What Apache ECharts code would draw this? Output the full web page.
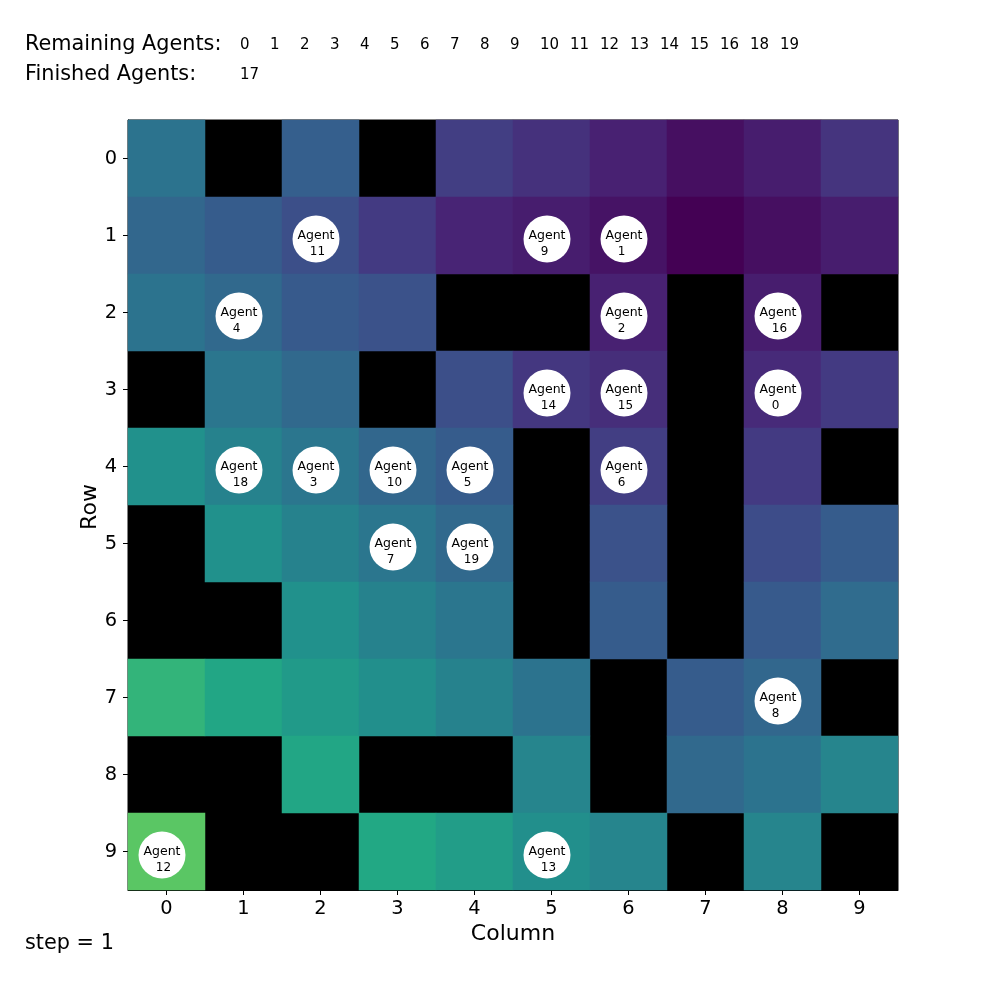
<!DOCTYPE html>
<html>
<head>
<meta charset="utf-8">
<style>
  html, body { margin: 0; padding: 0; background: #fff; }
  #main { width: 1000px; height: 1000px; }
</style>
<script src="https://cdn.jsdelivr.net/npm/echarts@6/dist/echarts.min.js"></script>
</head>
<body>
<div id="main"></div>
<script>
var columns = ['0', '1', '2', '3', '4', '5', '6', '7', '8', '9'];
var rows = ['0', '1', '2', '3', '4', '5', '6', '7', '8', '9'];

// cell values per row, null = wall (black)
var row0 = [0.38, null, 0.30, null, 0.18, 0.14, 0.09, 0.04, 0.08, 0.15];
var row1 = [0.33, 0.29, 0.24, 0.17, 0.10, 0.08, 0.05, 0.00, 0.04, 0.08];
var row2 = [0.38, 0.34, 0.28, 0.25, null, null, 0.09, null, 0.08, null];
var row3 = [null, 0.39, 0.34, null, 0.24, 0.16, 0.13, null, 0.12, 0.17];
var row4 = [0.50, 0.44, 0.39, 0.33, 0.29, null, 0.18, null, 0.17, null];
var row5 = [null, 0.50, 0.44, 0.39, 0.34, null, 0.25, null, 0.23, 0.29];
var row6 = [null, null, 0.50, 0.44, 0.39, null, 0.29, null, 0.28, 0.35];
var row7 = [0.65, 0.59, 0.54, 0.49, 0.44, 0.38, null, 0.29, 0.33, null];
var row8 = [null, null, 0.59, null, null, 0.45, null, 0.34, 0.38, 0.45];
var row9 = [0.74, null, null, 0.60, 0.55, 0.49, 0.45, null, 0.45, null];
var grid = [row0, row1, row2, row3, row4, row5, row6, row7, row8, row9];

// agent id, column, row
var agents = [
  [11, 2, 1], [9, 5, 1], [1, 6, 1],
  [4, 1, 2], [2, 6, 2], [16, 8, 2],
  [14, 5, 3], [15, 6, 3], [0, 8, 3],
  [18, 1, 4], [3, 2, 4], [10, 3, 4], [5, 4, 4], [6, 6, 4],
  [7, 3, 5], [19, 4, 5],
  [8, 8, 7],
  [12, 0, 9], [13, 5, 9]
];

var remainingAgents = [0, 1, 2, 3, 4, 5, 6, 7, 8, 9, 10, 11, 12, 13, 14, 15, 16, 18, 19];
var finishedAgents = [17];
var stepCount = 1;

var viridis = ['#440154', '#482475', '#414487', '#355f8d', '#2a788e', '#21918c', '#22a884', '#44bf70', '#7ad151', '#bddf26', '#fde725'];

var FONT = '"DejaVu Sans", sans-serif';

var heatData = [];
grid.forEach(function (row, r) {
  row.forEach(function (v, c) {
    heatData.push([c, r, v === null ? '-' : v]);
  });
});

var agentData = agents.map(function (a) {
  return { value: [a[1], a[2]], agentId: a[0] };
});

// top text rows
var graphics = [
  { type: 'text', left: 25, top: 34, style: { text: 'Remaining Agents:', font: '20.8px ' + FONT, fill: '#000' } },
  { type: 'text', left: 25, top: 64, style: { text: 'Finished Agents:', font: '20.8px ' + FONT, fill: '#000' } },
  { type: 'text', left: 25, top: 933, style: { text: 'step = ' + stepCount, font: '20.8px ' + FONT, fill: '#000' } }
];
remainingAgents.forEach(function (id, i) {
  graphics.push({ type: 'text', left: 240 + 30 * i, top: 38, style: { text: String(id), font: '15px ' + FONT, fill: '#000' } });
});
finishedAgents.forEach(function (id, i) {
  graphics.push({ type: 'text', left: 240 + 30 * i, top: 68, style: { text: String(id), font: '15px ' + FONT, fill: '#000' } });
});

var chart = echarts.init(document.getElementById('main'), null, { renderer: 'canvas' });

chart.setOption({
  animation: false,
  backgroundColor: '#fff',
  textStyle: { fontFamily: FONT },
  graphic: graphics,
  grid: {
    left: 128, top: 120, width: 770, height: 770,
    show: true, backgroundColor: '#000', borderColor: '#000', borderWidth: 1
  },
  xAxis: {
    type: 'category',
    data: columns,
    name: 'Column',
    nameLocation: 'middle',
    nameGap: 32,
    nameTextStyle: { fontSize: 22, color: '#000', fontFamily: FONT },
    axisLine: { show: true, onZero: false, lineStyle: { color: '#000', width: 1 } },
    axisTick: { show: true, alignWithLabel: true, length: 5, lineStyle: { color: '#000' } },
    axisLabel: { fontSize: 19.4, color: '#000', margin: 9, fontFamily: FONT, interval: 0 },
    splitLine: { show: false }
  },
  yAxis: {
    type: 'category',
    inverse: true,
    data: rows,
    name: 'Row',
    nameLocation: 'middle',
    nameGap: 27,
    nameMoveOverlap: false,
    nameTextStyle: { fontSize: 22, color: '#000', fontFamily: FONT, padding: [0, 4, 0, 0] },
    axisLine: { show: true, onZero: false, lineStyle: { color: '#000', width: 1 } },
    axisTick: { show: true, alignWithLabel: true, length: 5, lineStyle: { color: '#000' } },
    axisLabel: { fontSize: 19.4, color: '#000', margin: 11, fontFamily: FONT, interval: 0, padding: [8, 0, 0, 0] },
    splitLine: { show: false }
  },
  visualMap: {
    show: false,
    type: 'continuous',
    min: 0,
    max: 1,
    seriesIndex: 0,
    dimension: 2,
    inRange: { color: viridis }
  },
  series: [
    {
      type: 'heatmap',
      data: heatData,
      silent: true,
      itemStyle: { borderWidth: 0 }
    },
    {
      type: 'scatter',
      data: agentData,
      symbol: 'circle',
      symbolSize: 47,
      symbolOffset: [-4.5, 3.5],
      silent: true,
      z: 5,
      itemStyle: { color: '#fff', opacity: 1 },
      label: {
        show: true,
        position: 'inside',
        offset: [0, 4.5],
        formatter: function (p) {
          var id = p.data.agentId;
          return '{a|Agent}\n' + (id < 10 ? '{one|' + id + '}' : '{two|' + id + '}');
        },
        rich: {
          a: { fontSize: 12.5, color: '#000', fontFamily: FONT, lineHeight: 16, align: 'center' },
          one: { fontSize: 12, color: '#000', fontFamily: FONT, lineHeight: 16, align: 'center', padding: [0, 5, 0, 0] },
          two: { fontSize: 12, color: '#000', fontFamily: FONT, lineHeight: 16, align: 'center', padding: [0, 0, 0, 3] }
        }
      }
    }
  ]
});
</script>
</body>
</html>
